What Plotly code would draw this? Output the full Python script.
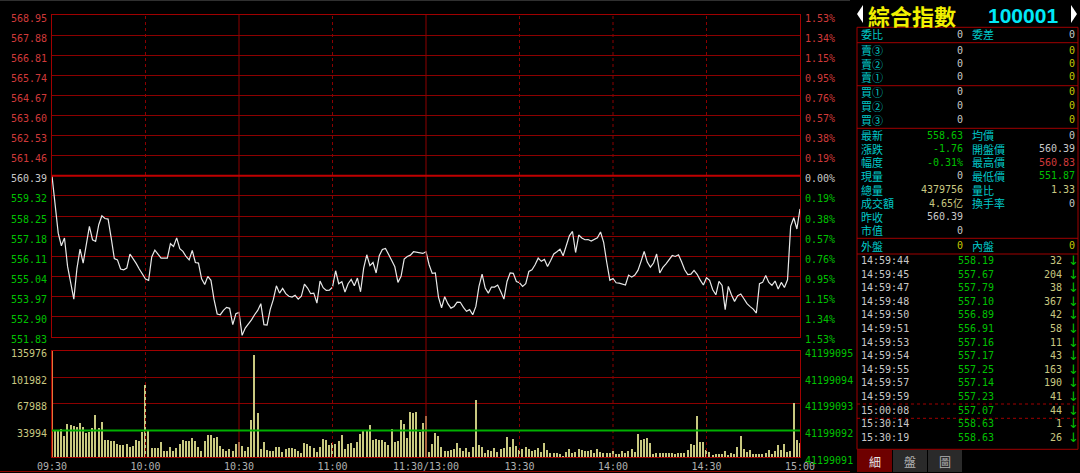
"""
綜合指數 100001 — intraday minute chart with quote panel.
"""

import plotly.graph_objects as go

# ─── Data ─────────────────────────────────────────────────────────────

PREV_CLOSE = 560.39

price = [
    560.39, 558.76, 557.34, 556.67, 557.08, 555.57, 554.72, 553.83, 555.45, 556.49,
    555.75, 556.81, 557.70, 556.99, 556.90, 557.79, 558.26, 558.12, 558.09, 557.08,
    555.99, 555.92, 555.43, 555.39, 555.48, 556.23, 556.01, 555.73, 555.43, 555.16,
    554.90, 554.83, 556.07, 556.44, 556.24, 556.01, 556.01, 556.01, 556.78, 556.63,
    557.09, 556.51, 556.37, 556.10, 555.92, 556.42, 555.78, 555.75, 554.91, 554.61,
    555.04, 554.83, 553.80, 553.04, 553.00, 553.23, 553.39, 553.34, 552.47, 553.05,
    553.12, 551.90, 552.29, 552.50, 552.73, 553.00, 553.23, 553.59, 552.47, 552.45,
    553.27, 553.80, 554.54, 554.15, 554.40, 554.12, 553.98, 553.94, 554.03, 553.83,
    553.98, 554.63, 554.42, 554.12, 554.15, 553.62, 554.79, 554.44, 554.29, 554.31,
    554.47, 555.34, 554.65, 554.76, 554.21, 554.65, 554.88, 554.54, 554.95, 554.22,
    555.48, 556.19, 555.61, 555.78, 555.22, 556.14, 556.47, 556.53, 556.24, 555.89,
    555.55, 554.72, 555.04, 555.96, 556.10, 556.17, 556.35, 556.33, 556.31, 556.26,
    556.35, 555.66, 555.20, 555.22, 553.94, 553.37, 553.96, 553.59, 553.35, 553.44,
    553.67, 553.66, 553.39, 553.18, 553.27, 553.00, 553.44, 554.51, 555.16, 554.42,
    554.15, 554.47, 554.47, 554.58, 554.22, 553.83, 554.77, 555.22, 555.20, 554.77,
    554.70, 554.51, 554.65, 555.30, 555.39, 555.66, 556.01, 555.84, 555.94, 555.57,
    555.89, 556.23, 556.35, 556.49, 556.14, 556.67, 557.20, 557.43, 556.31, 557.24,
    557.08, 556.99, 557.00, 556.92, 556.99, 557.09, 557.40, 556.85, 555.78, 554.83,
    554.93, 554.70, 554.68, 554.61, 554.58, 555.11, 555.00, 555.11, 555.36, 555.84,
    556.37, 555.80, 555.53, 555.75, 556.23, 555.22, 555.52, 555.71, 555.92, 556.15,
    556.10, 556.19, 555.82, 555.39, 555.13, 555.16, 555.36, 555.15, 554.84, 554.58,
    554.97, 554.83, 554.33, 554.06, 554.77, 554.56, 553.27, 554.51, 554.06, 553.71,
    554.01, 554.10, 553.85, 553.59, 553.43, 553.30, 553.09, 554.65, 554.72, 555.09,
    554.72, 554.56, 554.79, 554.37, 554.72, 554.45, 554.86, 557.70, 558.16, 557.56,
    558.63,
]

volume = [
    135976, 34208, 34208, 36346, 27794, 42760, 41905, 40622, 39339, 43615,
    38484, 30787, 32070, 37629, 54733, 37629, 45753, 22235, 22663, 21380,
    20525, 17104, 15821, 16249, 17104, 12828, 14966, 22235, 20525, 32070,
    91934, 34208, 11973, 11973, 11545, 19670, 7697, 8552, 12828, 7697,
    11973, 17104, 22663, 20525, 20525, 24801, 20525, 12828, 8552, 20525,
    28222, 29077, 24801, 26511, 14966, 10690, 8552, 10262, 8552, 17104,
    19670, 14966, 7697, 12828, 47891, 131273, 56443, 10262, 19242, 9407,
    7697, 8552, 12828, 13683, 6414, 10690, 11973, 11973, 10690, 7697,
    5131, 18387, 17104, 14966, 11973, 6414, 13683, 23518, 22663, 15394,
    17959, 17104, 21380, 28222, 10690, 17104, 17959, 11973, 19242, 29932,
    34208, 35063, 41050, 22663, 23946, 22663, 22663, 19242, 16249, 35918,
    19242, 21380, 47891, 42760, 24801, 57726, 56871, 57726, 32498, 44043,
    53022, 7269, 17104, 31215, 27794, 12828, 8552, 8552, 9407, 10690,
    17959, 11973, 7697, 11545, 6414, 12828, 73547, 16249, 13683, 5559,
    9407, 8552, 11545, 7269, 10262, 11973, 26084, 13683, 23518, 14966,
    9407, 10690, 13683, 10262, 7697, 9407, 11973, 7269, 18387, 9407,
    5986, 5559, 5131, 4276, 2138, 6842, 11118, 5131, 7269, 10690,
    9835, 8552, 8552, 9407, 5131, 10262, 6414, 5986, 5559, 5131,
    7697, 4276, 4276, 7697, 5131, 8552, 10262, 6414, 29932, 22235,
    23518, 24801, 17959, 4276, 5559, 5131, 5559, 5131, 5559, 5131,
    4276, 5559, 5986, 5559, 9407, 17104, 16249, 53450, 19242, 19242,
    9407, 6414, 3421, 4276, 4276, 4276, 8552, 2993, 5131, 4276,
    12828, 27366, 10690, 7269, 9835, 4276, 4276, 4276, 4276, 5131,
    9407, 4276, 8552, 15821, 9407, 17104, 6414, 8552, 69699, 22663,
    17959,
]

minutes = list(range(len(price)))

price_ticks = [551.83, 552.90, 553.97, 555.04, 556.11, 557.18, 558.25, 559.32, 560.39,
               561.46, 562.53, 563.60, 564.67, 565.74, 566.81, 567.88, 568.95]
pct_ticks = ["1.53%", "1.34%", "1.15%", "0.95%", "0.76%", "0.57%", "0.38%", "0.19%", "0.00%",
             "0.19%", "0.38%", "0.57%", "0.76%", "0.95%", "1.15%", "1.34%", "1.53%"]

vol_ticks = [0, 33994, 67988, 101982, 135976]
vol_left_text = ["", "33994", "67988", "101982", "135976"]
vol_right_text = ["41199091", "41199092", "41199093", "41199094", "41199095"]

time_ticks = [0, 30, 60, 90, 120, 150, 180, 210, 240]
time_labels = ["09:30", "10:00", "10:30", "11:00", "11:30/13:00", "13:30", "14:00", "14:30", "15:00"]

quote_left_labels = ["委比", "賣③", "賣②", "賣①", "買①", "買②", "買③", "最新", "漲跌", "幅度",
                     "現量", "總量", "成交額", "昨收", "市值", "外盤"]
quote_left_values = ["0", "0", "0", "0", "0", "0", "0", "558.63", "-1.76", "-0.31%",
                     "0", "4379756", "4.65亿", "560.39", "0", "0"]
quote_right_labels = ["委差", "", "", "", "", "", "", "均價", "開盤價", "最高價",
                      "最低價", "量比", "換手率", "", "", "內盤"]
quote_right_values = ["0", "0", "0", "0", "0", "0", "0", "0", "560.39", "560.83",
                      "551.87", "1.33", "0", "", "", "0"]

tick_times = ["14:59:44", "14:59:45", "14:59:47", "14:59:48", "14:59:50", "14:59:51", "14:59:53",
              "14:59:54", "14:59:55", "14:59:57", "14:59:59", "15:00:08", "15:30:14", "15:30:19"]
tick_prices = ["558.19", "557.67", "557.79", "557.10", "556.89", "556.91", "557.16",
               "557.17", "557.25", "557.14", "557.23", "557.07", "558.63", "558.63"]
tick_vols = [32, 204, 38, 367, 42, 58, 11, 43, 163, 190, 41, 44, 1, 26]

# ─── Style ────────────────────────────────────────────────────────────

W, H = 1080, 473
ML, MR, MT, MB = 52, 280, 15, 16

BG = "#000000"
GRID = "#8c0000"
FRAME = "#a00000"
RED = "#d03a3a"
GREEN = "#00c000"
WHITE = "#c8c8c8"
KHAKI = "#c8c880"
YELLOW = "#c8c800"
CYAN = "#00c8c8"
MONO = "DejaVu Sans Mono, Noto Sans CJK SC"
CJK = "Noto Sans CJK TC"

# drop the page's default white 8px body margin
PAGE_JS = (
    "document.body.style.margin='0';"
    "document.body.style.background='#000';"
    "document.documentElement.style.overflow='hidden';"
)


def px(x):
    """Screen pixel x -> paper x."""
    return (x - ML) / (W - ML - MR)


def py(y):
    """Screen pixel y -> paper y."""
    return (H - MB - y) / (H - MT - MB)


def colored(txt, color):
    return f'<span style="color:{color}">{txt}</span>'


mid = price_ticks.index(PREV_CLOSE)
tick_color = [GREEN if i < mid else WHITE if i == mid else RED for i in range(len(price_ticks))]
left_text = [colored(f"{v:.2f}", c) for v, c in zip(price_ticks, tick_color)]
right_text = [colored(t, c) for t, c in zip(pct_ticks, tick_color)]

PRICE_DOM = [py(336.7), 1]
VOL_DOM = [0, py(350.7)]

fig = go.Figure()

# ─── Traces ───────────────────────────────────────────────────────────

fig.add_trace(
    go.Bar(
        x=minutes,
        y=volume,
        xaxis="x",
        yaxis="y3",
        width=0.45,
        marker=dict(color=["#e07838"] + [KHAKI] * (len(volume) - 1), line=dict(width=0)),
        hoverinfo="skip",
    )
)
fig.add_trace(
    go.Scatter(
        x=minutes,
        y=price,
        xaxis="x2",
        yaxis="y",
        mode="lines",
        line=dict(color="#e8e8e8", width=1.2),
        hoverinfo="skip",
    )
)
# invisible traces so the right-hand axes are drawn
for ya, xa, yv in (("y2", "x2", PREV_CLOSE), ("y4", "x", 0)):
    fig.add_trace(
        go.Scatter(x=[0], y=[yv], xaxis=xa, yaxis=ya, mode="markers",
                   marker=dict(opacity=0), hoverinfo="skip")
    )

# ─── Grid & frame shapes ──────────────────────────────────────────────

shapes = []
for t in time_ticks[1:-1]:
    solid = t in (60, 120)
    shapes.append(dict(type="line", xref="x", yref="paper", x0=t, x1=t, y0=0, y1=1,
                       line=dict(color=GRID, width=1, dash="solid" if solid else "dot")))
shapes.append(dict(type="line", xref="x2", yref="y", x0=0, x1=240, y0=PREV_CLOSE, y1=PREV_CLOSE,
                   line=dict(color="#c00000", width=2)))
shapes.append(dict(type="line", xref="x", yref="y3", x0=0, x1=240, y0=33994, y1=33994,
                   line=dict(color="#00b000", width=2)))
shapes.append(dict(type="line", xref="paper", yref="paper", x0=px(0), x1=px(850),
                   y0=py(471.5), y1=py(471.5), line=dict(color=GRID, width=1)))
shapes.append(dict(type="line", xref="paper", yref="paper", x0=px(0), x1=px(850),
                   y0=py(0.5), y1=py(0.5), line=dict(color="#303030", width=1)))

# right panel boxes
for yy in (27.3, 42.7, 85.7, 128.3, 238.3, 254, 449.3):
    shapes.append(dict(type="line", xref="paper", yref="paper", x0=px(857), x1=px(1078),
                       y0=py(yy), y1=py(yy), line=dict(color=FRAME, width=1)))
for yy in (404, 418.3):
    shapes.append(dict(type="line", xref="paper", yref="paper", x0=px(857), x1=px(1078),
                       y0=py(yy), y1=py(yy), line=dict(color=FRAME, width=1, dash="dot")))
for xx in (857, 1078):
    shapes.append(dict(type="line", xref="paper", yref="paper", x0=px(xx), x1=px(xx),
                       y0=py(27.3), y1=py(449.3), line=dict(color=FRAME, width=1)))

# title arrows
shapes.append(dict(type="path", xref="paper", yref="paper", fillcolor="#ffffff", line=dict(width=0),
                   path=f"M {px(857)},{py(14)} L {px(863)},{py(5)} L {px(863)},{py(23)} Z"))
shapes.append(dict(type="path", xref="paper", yref="paper", fillcolor="#ffffff", line=dict(width=0),
                   path=f"M {px(1077)},{py(14)} L {px(1071)},{py(5)} L {px(1071)},{py(23)} Z"))

# tabs
for (x0, x1), fill in zip(((857, 892), (893, 927), (928, 962)), ("#6e0000", "#2a2a2a", "#2a2a2a")):
    shapes.append(dict(type="rect", xref="paper", yref="paper", x0=px(x0), x1=px(x1),
                       y0=py(472), y1=py(450), fillcolor=fill, line=dict(width=0)))

# ─── Quote panel text ─────────────────────────────────────────────────

ann = []


def text(x, y, s, color, size=10, family=MONO, anchor="left"):
    ann.append(dict(x=px(x), y=py(y), xref="paper", yref="paper", text=s, showarrow=False,
                    xanchor=anchor, yanchor="middle", font=dict(family=family, size=size, color=color)))


text(866, 15, "<b>綜合指數</b>", "#f0f000", size=22, family=CJK)
text(986, 15, "<b>100001</b>", "#00e8f8", size=21, family="Liberation Sans")

row_y = [34.5, 50, 63.5, 77, 91.5, 105.5, 119.5, 135, 148.5, 162, 175.5, 189.5, 203, 216.5, 230, 246]
left_colors = [WHITE] * 7 + [GREEN, GREEN, GREEN, WHITE, KHAKI, KHAKI, WHITE, WHITE, YELLOW]
right_colors = [WHITE] + [YELLOW] * 6 + [WHITE, WHITE, RED, GREEN, KHAKI, WHITE, WHITE, WHITE, YELLOW]

for i, y in enumerate(row_y):
    text(859, y, quote_left_labels[i], CYAN, size=11, family=CJK)
    text(965, y, quote_left_values[i], left_colors[i], anchor="right")
    if quote_right_labels[i]:
        text(970, y, quote_right_labels[i], CYAN, size=11, family=CJK)
    if quote_right_values[i]:
        text(1077, y, quote_right_values[i], right_colors[i], anchor="right")

for i, (t, p, v) in enumerate(zip(tick_times, tick_prices, tick_vols)):
    y = 260.5 + 13.6 * i
    text(859, y, t, WHITE)
    text(996, y, p, GREEN, anchor="right")
    text(1064, y, str(v), KHAKI, anchor="right")
    text(1073, y, "↓", GREEN, size=13, family="DejaVu Sans", anchor="center")

for x, s, c in ((874.5, "細", "#e8e8e8"), (910, "盤", "#b0b0b0"), (945, "圖", "#b0b0b0")):
    text(x, 461, s, c, size=12, family=CJK, anchor="center")

# ─── Layout ───────────────────────────────────────────────────────────

axis_font = dict(family=MONO, size=10)
frame = dict(showline=True, linecolor=FRAME, linewidth=1, mirror=True, zeroline=False, ticks="")

fig.update_layout(
    width=W,
    height=H,
    margin=dict(l=ML, r=MR, t=MT, b=MB, autoexpand=False),
    paper_bgcolor=BG,
    plot_bgcolor=BG,
    showlegend=False,
    hovermode=False,
    bargap=0,
    xaxis=dict(domain=[0, 1], anchor="y3", range=[0, 240], tickmode="array", tickvals=time_ticks,
               ticktext=time_labels, showgrid=False, tickfont=dict(color="#b0b0b0", **axis_font),
               **frame),
    xaxis2=dict(domain=[0, 1], anchor="y", matches="x", showticklabels=False, showgrid=False, **frame),
    yaxis=dict(domain=PRICE_DOM, anchor="x2", range=[price_ticks[0], price_ticks[-1]],
               tickmode="array", tickvals=price_ticks, ticktext=left_text, showgrid=True,
               gridcolor=GRID, gridwidth=1, tickfont=axis_font, ticklabelshift=3,
               ticklabelstandoff=2, **frame),
    yaxis2=dict(overlaying="y", anchor="x2", side="right", range=[price_ticks[0], price_ticks[-1]],
                tickmode="array", tickvals=price_ticks, ticktext=right_text, showgrid=False,
                tickfont=axis_font, ticklabelshift=3, ticklabelstandoff=2, **frame),
    yaxis3=dict(domain=VOL_DOM, anchor="x", range=[0, 135976], tickmode="array", tickvals=vol_ticks,
                ticktext=vol_left_text, showgrid=True, gridcolor=GRID, gridwidth=1,
                tickfont=dict(color=KHAKI, **axis_font), ticklabelshift=3, ticklabelstandoff=2,
                **frame),
    yaxis4=dict(overlaying="y3", anchor="x", side="right", range=[0, 135976], tickmode="array",
                tickvals=vol_ticks, ticktext=vol_right_text, showgrid=False,
                tickfont=dict(color=GREEN, **axis_font), ticklabelshift=3, ticklabelstandoff=2,
                **frame),
    shapes=shapes,
    annotations=ann,
)

fig.write_html("out.html", post_script=PAGE_JS, config={"displayModeBar": False})
